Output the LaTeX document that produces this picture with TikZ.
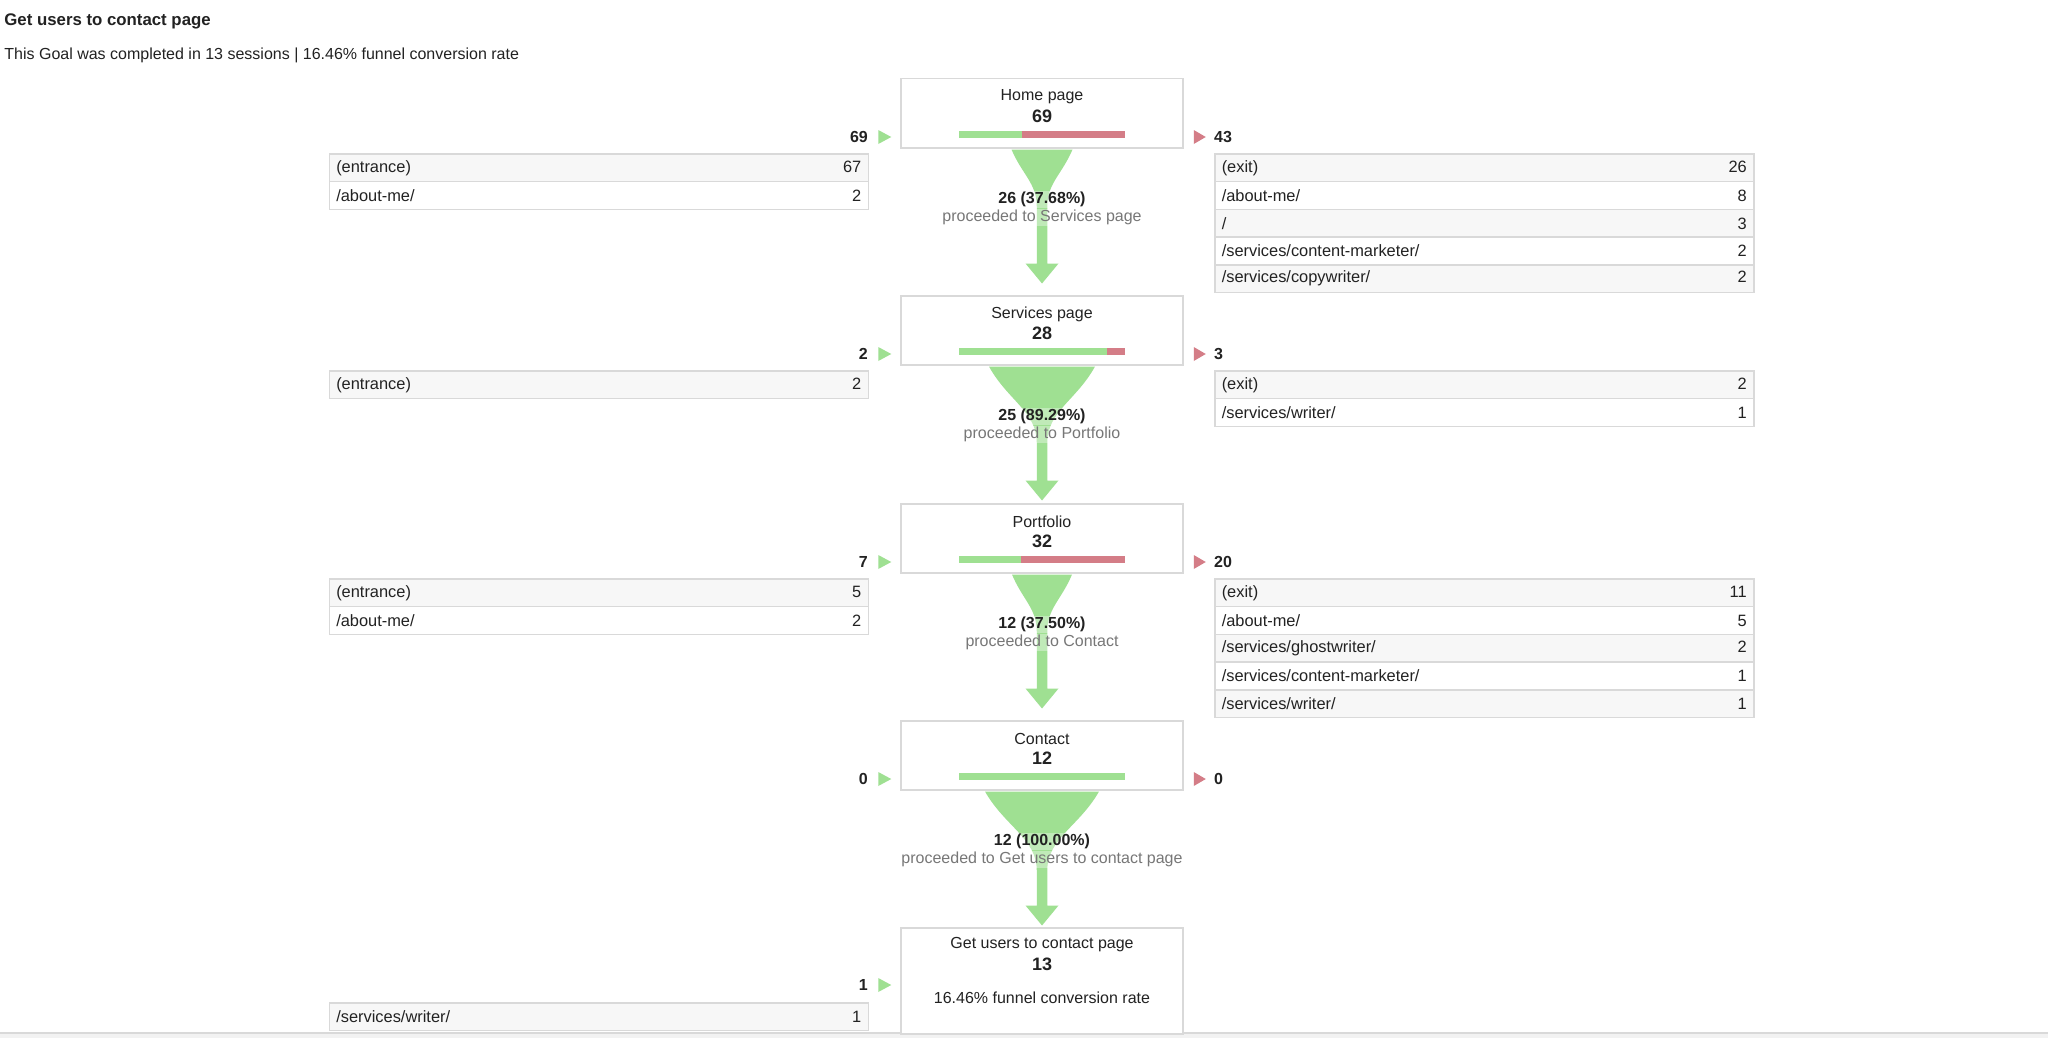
\documentclass[tikz,border=0pt]{standalone}
\usepackage{fontspec}
\setmainfont{Liberation Sans}
\usepackage{tikz}
\usetikzlibrary{calc,positioning}
\definecolor{gagreen}{HTML}{9FE092}
\definecolor{gared}{HTML}{D47D87}
\definecolor{gaborder}{HTML}{D9D9D9}
\definecolor{garow}{HTML}{F7F7F7}
\definecolor{gatext}{HTML}{222222}
\definecolor{gamuted}{HTML}{777777}
\definecolor{gabottom}{HTML}{F2F2F2}

% funnel from a step box: node, half width at the top, taper length
\newcommand{\funnel}[3]{%
  \fill[gagreen]
    ($(#1.south)+(-#2,1)$)
    .. controls ($(#1.south)+(-0.65*#2,0.45*#3)$) and ($(#1.south)+(-5.25,0.6*#3)$) .. ($(#1.south)+(-5.25,#3)$)
    -- ($(#1.south)+(-5.25,115)$) -- ($(#1.south)+(-16.5,115)$) -- ($(#1.south)+(0,135)$)
    -- ($(#1.south)+(16.5,115)$) -- ($(#1.south)+(5.25,115)$) -- ($(#1.south)+(5.25,#3)$)
    .. controls ($(#1.south)+(5.25,0.6*#3)$) and ($(#1.south)+(0.65*#2,0.45*#3)$) .. ($(#1.south)+(#2,1)$)
    -- cycle;}

\tikzset{
  stepbox/.style={draw=gaborder, line width=0.75pt, fill=white, minimum width=141pt,
    minimum height=34.5pt, anchor=north, inner sep=0pt},
  steptitle/.style={font=\fontsize{8}{9.6}\selectfont, text=gatext, inner sep=0pt},
  stepcount/.style={font=\fontsize{9}{10.8}\selectfont\bfseries, text=gatext, inner sep=0pt},
  sidecount/.style={font=\fontsize{8}{9.6}\selectfont\bfseries, text=gatext, inner sep=0pt},
  flowcount/.style={font=\fontsize{8}{9.6}\selectfont\bfseries, text=gatext, inner sep=0.5pt,
    fill=white, fill opacity=0.35, text opacity=1},
  flowtext/.style={font=\fontsize{8}{9.6}\selectfont, text=gamuted, inner sep=0.5pt,
    fill=white, fill opacity=0.35, text opacity=1},
  bar/.style={line width=3.5pt},
  pagerow/.style={draw=gaborder, line width=0.75pt, text width=262.5pt, inner xsep=3.5pt,
    inner ysep=0pt, outer sep=0pt, minimum height=13.85pt, font=\fontsize{8.2}{9.8}\selectfont,
    text=gatext},
  rowodd/.style={pagerow, fill=garow},
  roweven/.style={pagerow, fill=white},
}

\begin{document}
\begin{tikzpicture}[x=0.5pt, y=-0.5pt]
  \useasboundingbox[fill=white] (0,0) rectangle (2048,1038);
  \fill[gabottom] (0,1033) rectangle (2048,1038);
  \draw[gaborder, line width=0.75pt] (0,1033) -- (2048,1033);

  \node[anchor=west, inner sep=0pt, text=gatext, font=\fontsize{8.4}{10}\selectfont\bfseries]
    (title) at (4,21) {Get users to contact page};
  \node[anchor=west, inner sep=0pt, text=gatext, font=\fontsize{8}{9.6}\selectfont]
    (subtitle) at (4,55) {This Goal was completed in 13 sessions | 16.46\% funnel conversion rate};

  % steps
  \node[stepbox] (home) at (1042,78) {};
  \node[stepbox] (services) at (1042,295) {};
  \node[stepbox] (portfolio) at (1042,503) {};
  \node[stepbox] (contact) at (1042,720) {};
  \node[stepbox, minimum height=53pt] (goal) at (1042,927) {};

  \funnel{home}{30.5}{58}
  \funnel{services}{53}{77}
  \funnel{portfolio}{30}{58}
  \funnel{contact}{57}{80}

  % home page
  \node[steptitle] (hometitle) at ($(home.north)+(0,19)$) {Home page};
  \node[stepcount] (homecount) at ($(home.north)+(0,38)$) {69};
  \draw[bar, gagreen] ($(home.north)+(-83,56)$) -- ++(62.5,0);
  \draw[bar, gared] ($(home.north)+(-20.5,56)$) -- ++(103.5,0);
  \fill[gagreen] ($(home.north west)+(-22,52)$) -- ++(13,7) -- ++(-13,7) -- cycle;
  \fill[gared] ($(home.north east)+(10,52)$) -- ++(12,7) -- ++(-12,7) -- cycle;
  \node[sidecount, anchor=east] (homein) at ($(home.north west)+(-32,59)$) {69};
  \node[sidecount, anchor=west] (homeout) at ($(home.north east)+(30,59)$) {43};
  \node[rowodd, anchor=north east] (homein1) at ($(home.north west)+(-32,76)$) {(entrance)\hfill 67};
  \node[roweven, below=0pt of homein1] (homein2) {/about-me/\hfill 2};
  \node[rowodd, anchor=north west] (homeout1) at ($(home.north east)+(31,76)$) {(exit)\hfill 26};
  \node[roweven, below=0pt of homeout1] (homeout2) {/about-me/\hfill 8};
  \node[rowodd, below=0pt of homeout2] (homeout3) {/\hfill 3};
  \node[roweven, below=0pt of homeout3] (homeout4) {/services/content-marketer/\hfill 2};
  \node[rowodd, below=0pt of homeout4] (homeout5) {/services/copywriter/\hfill 2};
  \node[flowcount] (homeflow) at ($(home.south)+(0,51)$) {26 (37.68\%)};
  \node[flowtext] (homenext) at ($(home.south)+(0,69)$) {proceeded to Services page};

  % services page
  \node[steptitle] (servicestitle) at ($(services.north)+(0,19)$) {Services page};
  \node[stepcount] (servicescount) at ($(services.north)+(0,38)$) {28};
  \draw[bar, gagreen] ($(services.north)+(-83,56)$) -- ++(148,0);
  \draw[bar, gared] ($(services.north)+(65,56)$) -- ++(18,0);
  \fill[gagreen] ($(services.north west)+(-22,52)$) -- ++(13,7) -- ++(-13,7) -- cycle;
  \fill[gared] ($(services.north east)+(10,52)$) -- ++(12,7) -- ++(-12,7) -- cycle;
  \node[sidecount, anchor=east] (servicesin) at ($(services.north west)+(-32,59)$) {2};
  \node[sidecount, anchor=west] (servicesout) at ($(services.north east)+(30,59)$) {3};
  \node[rowodd, anchor=north east] (servicesin1) at ($(services.north west)+(-32,76)$) {(entrance)\hfill 2};
  \node[rowodd, anchor=north west] (servicesout1) at ($(services.north east)+(31,76)$) {(exit)\hfill 2};
  \node[roweven, below=0pt of servicesout1] (servicesout2) {/services/writer/\hfill 1};
  \node[flowcount] (servicesflow) at ($(services.south)+(0,51)$) {25 (89.29\%)};
  \node[flowtext] (servicesnext) at ($(services.south)+(0,69)$) {proceeded to Portfolio};

  % portfolio
  \node[steptitle] (portfoliotitle) at ($(portfolio.north)+(0,19)$) {Portfolio};
  \node[stepcount] (portfoliocount) at ($(portfolio.north)+(0,38)$) {32};
  \draw[bar, gagreen] ($(portfolio.north)+(-83,56)$) -- ++(62,0);
  \draw[bar, gared] ($(portfolio.north)+(-21,56)$) -- ++(104,0);
  \fill[gagreen] ($(portfolio.north west)+(-22,52)$) -- ++(13,7) -- ++(-13,7) -- cycle;
  \fill[gared] ($(portfolio.north east)+(10,52)$) -- ++(12,7) -- ++(-12,7) -- cycle;
  \node[sidecount, anchor=east] (portfolioin) at ($(portfolio.north west)+(-32,59)$) {7};
  \node[sidecount, anchor=west] (portfolioout) at ($(portfolio.north east)+(30,59)$) {20};
  \node[rowodd, anchor=north east] (portfolioin1) at ($(portfolio.north west)+(-32,76)$) {(entrance)\hfill 5};
  \node[roweven, below=0pt of portfolioin1] (portfolioin2) {/about-me/\hfill 2};
  \node[rowodd, anchor=north west] (portfolioout1) at ($(portfolio.north east)+(31,76)$) {(exit)\hfill 11};
  \node[roweven, below=0pt of portfolioout1] (portfolioout2) {/about-me/\hfill 5};
  \node[rowodd, below=0pt of portfolioout2] (portfolioout3) {/services/ghostwriter/\hfill 2};
  \node[roweven, below=0pt of portfolioout3] (portfolioout4) {/services/content-marketer/\hfill 1};
  \node[rowodd, below=0pt of portfolioout4] (portfolioout5) {/services/writer/\hfill 1};
  \node[flowcount] (portfolioflow) at ($(portfolio.south)+(0,51)$) {12 (37.50\%)};
  \node[flowtext] (portfolionext) at ($(portfolio.south)+(0,69)$) {proceeded to Contact};

  % contact
  \node[steptitle] (contacttitle) at ($(contact.north)+(0,19)$) {Contact};
  \node[stepcount] (contactcount) at ($(contact.north)+(0,38)$) {12};
  \draw[bar, gagreen] ($(contact.north)+(-83,56)$) -- ++(166,0);
  \fill[gagreen] ($(contact.north west)+(-22,52)$) -- ++(13,7) -- ++(-13,7) -- cycle;
  \fill[gared] ($(contact.north east)+(10,52)$) -- ++(12,7) -- ++(-12,7) -- cycle;
  \node[sidecount, anchor=east] (contactin) at ($(contact.north west)+(-32,59)$) {0};
  \node[sidecount, anchor=west] (contactout) at ($(contact.north east)+(30,59)$) {0};
  \node[flowcount] (contactflow) at ($(contact.south)+(0,51)$) {12 (100.00\%)};
  \node[flowtext] (contactnext) at ($(contact.south)+(0,69)$) {proceeded to Get users to contact page};

  % goal
  \node[steptitle] (goaltitle) at ($(goal.north)+(0,18)$) {Get users to contact page};
  \node[stepcount] (goalcount) at ($(goal.north)+(0,37)$) {13};
  \node[steptitle] (goalrate) at ($(goal.north)+(0,71)$) {16.46\% funnel conversion rate};
  \fill[gagreen] ($(goal.north west)+(-22,51)$) -- ++(13,7) -- ++(-13,7) -- cycle;
  \node[sidecount, anchor=east] (goalin) at ($(goal.north west)+(-32,58)$) {1};
  \node[rowodd, anchor=north east] (goalin1) at ($(goal.north west)+(-32,76)$) {/services/writer/\hfill 1};
\end{tikzpicture}
\end{document}
